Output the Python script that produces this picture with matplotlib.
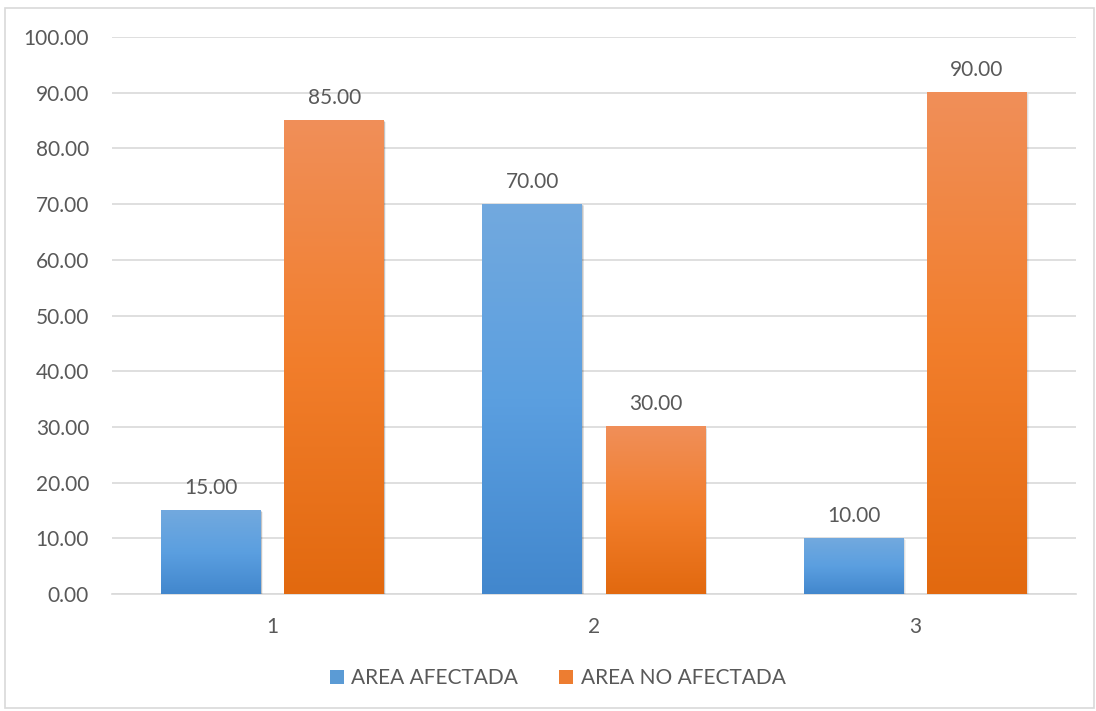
import numpy as np
import matplotlib
matplotlib.use("Agg")
import matplotlib.pyplot as plt
from matplotlib.colors import LinearSegmentedColormap
from matplotlib.patches import Rectangle
from matplotlib.lines import Line2D

# data
categories = ["1", "2", "3"]
afectada = [15.00, 70.00, 10.00]
no_afectada = [85.00, 30.00, 90.00]
series_names = ["AREA AFECTADA", "AREA NO AFECTADA"]

plt.rcParams["font.family"] = ["Lato", "DejaVu Sans"]
text_color = "#595959"
grid_color = "#D9D9D9"

W, H = 1096, 711
fig = plt.figure(figsize=(W / 100, H / 100), dpi=100)

# outer chart frame
fig.patches.append(Rectangle((5 / W, 3 / H), 1089 / W, 700 / H, transform=fig.transFigure,
                             fill=False, edgecolor=grid_color, linewidth=1.2))

ax = fig.add_axes([112 / W, (H - 594) / H, 964 / W, 557 / H])

blue_cmap = LinearSegmentedColormap.from_list("blue", ["#4287CD", "#5B9FE0", "#72A9DE"])
orange_cmap = LinearSegmentedColormap.from_list("orange", ["#E2690F", "#F27E2C", "#F08F59"])

bar_w = 0.311
offset = 0.1915
x = np.arange(len(categories))
grad = np.linspace(0, 1, 256).reshape(-1, 1)
fs = 15


def gradient_bar(xc, h, cmap):
    x0, x1 = xc - bar_w / 2, xc + bar_w / 2
    # soft drop shadow
    for k, a in zip([0.9, 0.6, 0.3], [0.05, 0.08, 0.12]):
        ax.add_patch(Rectangle((x0 + k * 0.006, -k * 0.35), bar_w, h, facecolor="#000000",
                               alpha=a, linewidth=0, zorder=2))
    ax.imshow(grad, extent=[x0, x1, 0, h], origin="lower", cmap=cmap, aspect="auto",
              zorder=3, interpolation="bicubic")
    ax.annotate(f"{h:.2f}", (xc, h), xytext=(0, 9), textcoords="offset points",
                ha="center", va="bottom", fontsize=fs, color=text_color, zorder=4)


for i in range(len(categories)):
    gradient_bar(x[i] - offset, afectada[i], blue_cmap)
    gradient_bar(x[i] + offset, no_afectada[i], orange_cmap)

ax.set_xlim(-0.5, len(categories) - 0.5)
ax.set_ylim(0, 100)
ax.set_yticks(np.arange(0, 101, 10))
ax.set_yticklabels([f"{v:.2f}" for v in np.arange(0, 101, 10)])
ax.set_xticks(x)
ax.set_xticklabels(categories)
ax.tick_params(axis="both", length=0, labelsize=fs, labelcolor=text_color)
ax.tick_params(axis="y", pad=16.5)
ax.tick_params(axis="x", pad=16.5)
ax.yaxis.grid(True, color=grid_color, linewidth=1.2, zorder=0)
ax.set_axisbelow(True)
for s in ["top", "right", "left"]:
    ax.spines[s].set_visible(False)
ax.spines["bottom"].set_color(grid_color)
ax.spines["bottom"].set_linewidth(1.2)
ax.spines["bottom"].set_zorder(1)

handles = [Line2D([0], [0], marker="s", linestyle="None", markersize=9.5, markeredgewidth=0,
                  markerfacecolor="#5B9BD5"),
           Line2D([0], [0], marker="s", linestyle="None", markersize=9.5, markeredgewidth=0,
                  markerfacecolor="#ED7D31")]
fig.legend(handles, series_names, loc="center", bbox_to_anchor=(556 / W, (H - 678) / H),
           ncol=2, frameon=False, fontsize=fs, labelcolor=text_color, handletextpad=0.2,
           columnspacing=1.8, handlelength=1.0)

fig.savefig("out.png", dpi=100, facecolor="white")
